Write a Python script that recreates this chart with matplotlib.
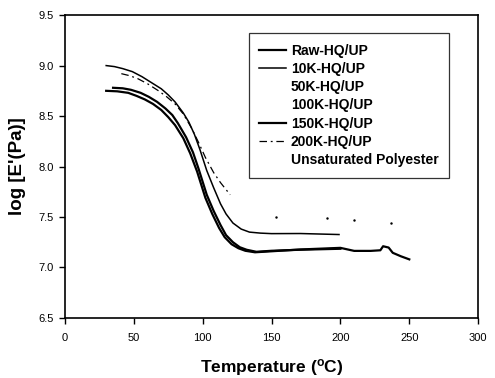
#! /usr/bin/env python3

import matplotlib
matplotlib.use("Agg")
import matplotlib.pyplot as plt

plt.rcParams['font.family'] = ['Liberation Sans', 'DejaVu Sans']

# values
# Raw-HQ/UP
raw_T = [35, 42, 48, 55, 61, 67, 73, 78, 82, 88, 93, 97, 100, 103, 108, 113, 117, 122,
         127, 132, 139, 150, 170, 200]
raw_v = [8.78, 8.775, 8.76, 8.73, 8.69, 8.64, 8.575, 8.51, 8.43, 8.29, 8.14, 7.98, 7.85,
         7.72, 7.56, 7.42, 7.32, 7.25, 7.2, 7.175, 7.155, 7.165, 7.175, 7.185]

# 10K-HQ/UP
k10_T = [30, 36, 42, 49, 56, 63, 70, 75, 80, 86, 90, 94, 98, 103, 108, 113, 117, 122,
         128, 134, 142, 150, 171, 199]
k10_v = [9.0, 8.99, 8.97, 8.94, 8.89, 8.83, 8.77, 8.71, 8.64, 8.53, 8.44, 8.32, 8.17, 7.96,
         7.79, 7.63, 7.53, 7.44, 7.38, 7.35, 7.34, 7.335, 7.336, 7.326]

# 150K-HQ/UP
k150_T = [30, 38, 46, 52, 58, 64, 70, 75, 80, 86, 91, 96, 99, 102, 107, 112, 116, 121,
          126, 131, 138, 150, 171, 200, 210, 222, 229, 231, 235, 238, 244, 250]
k150_v = [8.75, 8.745, 8.73, 8.7, 8.665, 8.62, 8.56, 8.49, 8.41, 8.28, 8.13, 7.95, 7.82,
          7.69, 7.53, 7.39, 7.3, 7.23, 7.19, 7.165, 7.15, 7.16, 7.178, 7.194, 7.164,
          7.164, 7.17, 7.21, 7.197, 7.145, 7.11, 7.08]

# 200K-HQ/UP
k200_T = [41, 47, 53, 60, 68, 74, 80, 86, 92, 97, 102, 108, 113, 120]
k200_v = [8.92, 8.9, 8.87, 8.82, 8.75, 8.69, 8.62, 8.52, 8.38, 8.24, 8.09, 7.94, 7.84, 7.72]

# faint points in the scan, no visible legend line
up_T = [153, 190, 210, 237]
up_v = [7.50, 7.485, 7.47, 7.44]

labels = ["Raw-HQ/UP", "10K-HQ/UP", "50K-HQ/UP", "100K-HQ/UP",
          "150K-HQ/UP", "200K-HQ/UP", "Unsaturated Polyester"]

fig = plt.figure(figsize=(4.95, 3.78), dpi=100)
ax = fig.add_axes([0.131, 0.159, 0.835, 0.801])

ax.plot(raw_T, raw_v, color="black", lw=1.6, label=labels[0])
ax.plot(k10_T, k10_v, color="black", lw=1.1, label=labels[1])
ax.plot([], [], color="white", lw=1, label=labels[2])
ax.plot([], [], color="white", lw=1, label=labels[3])
ax.plot(k150_T, k150_v, color="black", lw=1.6, label=labels[4])
ax.plot(k200_T, k200_v, color="black", lw=0.9, ls=(0, (6, 3, 1.5, 3)), label=labels[5])
ax.plot(up_T, up_v, color="black", ls="none", marker=".", ms=1.5, label=labels[6])

ax.set_xlim(0, 300)
ax.set_ylim(6.5, 9.5)
ax.set_xticks(range(0, 301, 50))
ax.set_yticks([6.5, 7.0, 7.5, 8.0, 8.5, 9.0, 9.5])
ax.set_yticklabels(["6.5", "7.0", "7.5", "8.0", "8.5", "9.0", "9.5"])
ax.tick_params(direction="out", length=4, width=1, labelsize=8)
ax.tick_params(axis="x", pad=7)
ax.tick_params(axis="y", pad=4)
for s in ax.spines.values():
    s.set_linewidth(1.2)

ax.set_xlabel("Temperature ($\\mathregular{^oC}$)", fontsize=12.5,
              fontweight="bold", labelpad=10)
ax.set_ylabel("log [E'(Pa)]", fontsize=13.5, fontweight="bold", labelpad=9)

leg = ax.legend(loc="upper left", bbox_to_anchor=(0.4455, 0.9406), frameon=True, fancybox=False,
                edgecolor="black", prop={"size": 10, "weight": "bold"},
                handlelength=1.9, handletextpad=0.35, labelspacing=0.31, borderpad=0.75,
                borderaxespad=0)
leg.get_frame().set_linewidth(0.9)
leg.legend_handles[6].set_visible(False)

plt.savefig("out.png", dpi=100)
